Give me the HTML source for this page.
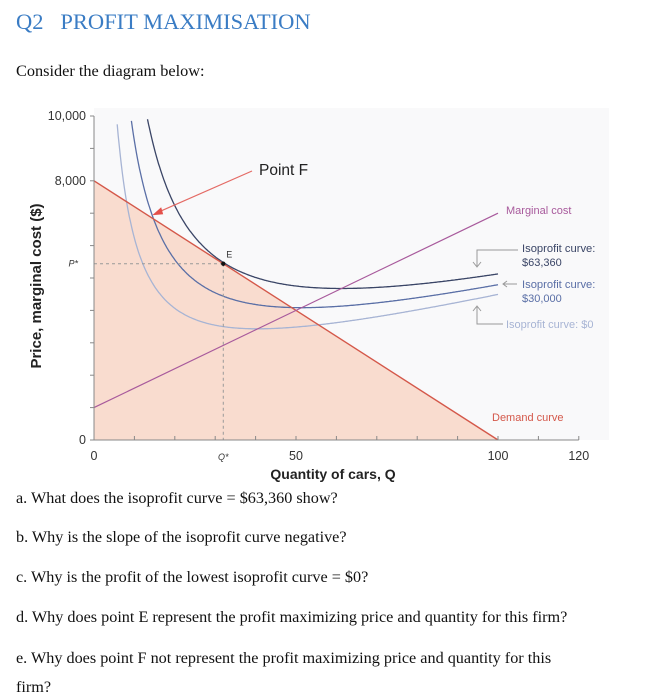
<!DOCTYPE html>
<html><head><meta charset="utf-8">
<style>
body{margin:0;width:667px;height:700px;background:#fff;position:relative;overflow:hidden;font-family:"Liberation Serif",serif;}
.t{position:absolute;white-space:nowrap;color:#111;}
</style></head><body>
<div class="t" style="left:16px;top:9px;font-size:22.5px;color:#3a7cc4;">Q2&nbsp;&nbsp;&nbsp;PROFIT MAXIMISATION</div>
<div class="t" style="left:16px;top:61px;font-size:16.3px;">Consider the diagram below:</div>
<svg id="chart" style="position:absolute;left:0;top:0" width="667" height="700" font-family="Liberation Sans, sans-serif"></svg>
<div class="t" style="left:16px;top:489px;font-size:16.2px;">a. What does the isoprofit curve = $63,360 show?</div>
<div class="t" style="left:16px;top:528px;font-size:16.2px;">b. Why is the slope of the isoprofit curve negative?</div>
<div class="t" style="left:16px;top:568px;font-size:16.2px;">c. Why is the profit of the lowest isoprofit curve = $0?</div>
<div class="t" style="left:16px;top:608px;font-size:16.2px;">d. Why does point E represent the profit maximizing price and quantity for this firm?</div>
<div class="t" style="left:16px;top:649px;font-size:16.2px;">e. Why does point F not represent the profit maximizing price and quantity for this</div>
<div class="t" style="left:16px;top:678px;font-size:16.2px;">firm?</div>
<script>
const demandIntercept = 8000;
const demandSlope = 80;
const mcIntercept = 1000;
const mcSlope = 60;
const fixedCost = 49280;
const profits = [63360, 30000, 0];
const profitColors = ["#3a4566", "#5a6fa6", "#a7b4d4"];
const xTicks = [0,10,20,30,40,50,60,70,80,90,100,110,120];
const xLabels = [[0,"0"],[32,"Q*"],[50,"50"],[100,"100"],[120,"120"]];
const yTicks = [0,1000,2000,3000,4000,5000,6000,7000,8000,9000,10000];
const yLabels = [[0,"0"],[8000,"8,000"],[10000,"10,000"]];
const qStar = 32;
const qF = 14.4;

const svg = document.getElementById('chart');
const NS = "http://www.w3.org/2000/svg";
const X = q => 94 + q * 4.04;
const Y = p => 440 - p * 0.0324;
function el(tag, attrs, parent){const e=document.createElementNS(NS,tag);for(const k in attrs)e.setAttribute(k,attrs[k]);(parent||svg).appendChild(e);return e;}
function txt(x,y,s,attrs){const e=el('text',Object.assign({x:x,y:y},attrs||{}));e.textContent=s;return e;}

let r = el('rect',{x:94,y:108,width:515,height:332,fill:"#f9f9fa"});



const demand = q => demandIntercept - demandSlope*q;
const mc = q => mcIntercept + mcSlope*q;
const iso = (pi,q) => (pi+fixedCost)/q + mcIntercept + mcSlope/2*q;

const qEnd = demandIntercept/demandSlope;
let area = el('polygon',{points:`${X(0)},${Y(demandIntercept)} ${X(qEnd)},${Y(0)} ${X(0)},${Y(0)}`,fill:"#f9dccf"});



profits.forEach((pi,i)=>{
  let pts=[];
  for(let q=1;q<=100;q+=0.25){const p=iso(pi,q); if(p<=10000) pts.push(X(q).toFixed(1)+","+Y(p).toFixed(1));}
  const c=el('polyline',{points:pts.join(" "),fill:"none",stroke:profitColors[i],"stroke-width":1.3});
  
  
});

let d = el('line',{x1:X(0),y1:Y(demandIntercept),x2:X(qEnd),y2:Y(0),stroke:"#d4584a","stroke-width":1.4});


let m = el('line',{x1:X(0),y1:Y(mc(0)),x2:X(100),y2:Y(mc(100)),stroke:"#a85a9c","stroke-width":1.2});



const pStar = demand(qStar);
let g1 = el('line',{x1:X(0),y1:Y(pStar),x2:X(qStar),y2:Y(pStar),stroke:"#999","stroke-dasharray":"3,3"});


let g2 = el('line',{x1:X(qStar),y1:Y(pStar),x2:X(qStar),y2:Y(0),stroke:"#999","stroke-dasharray":"3,3"});


let pe = el('circle',{cx:X(qStar),cy:Y(pStar),r:2.2,fill:"#111"});


let le = txt(X(qStar)+3,Y(pStar)-6,"E",{"font-size":9,fill:"#333"});



let ax = el('line',{x1:94,y1:440,x2:X(120),y2:440,stroke:"#888"});


let ay = el('line',{x1:94,y1:440,x2:94,y2:Y(10000),stroke:"#888"});


xTicks.forEach(q=>{const t=el('line',{x1:X(q),y1:440,x2:X(q),y2:436,stroke:"#888"});

});
yTicks.forEach(p=>{const t=el('line',{x1:90,y1:Y(p),x2:94,y2:Y(p),stroke:"#888"});

});
xLabels.forEach(([q,s])=>{const t=txt(X(q),460,s,{"font-size":s==="Q*"?9:12.5,"text-anchor":"middle",fill:"#333","font-style":s==="Q*"?"italic":"normal"});

});
yLabels.forEach(([p,s])=>{const t=txt(86,Y(p)+4,s,{"font-size":12.5,"text-anchor":"end",fill:"#333"});

});
let ps = txt(78,Y(pStar)+3,"P*",{"font-size":9,"font-style":"italic","text-anchor":"end",fill:"#333"});



let xt = txt(333,479,"Quantity of cars, Q",{"font-size":14,"font-weight":"bold","text-anchor":"middle",fill:"#222"});


let yt = txt(0,0,"Price, marginal cost ($)",{"font-size":15,"font-weight":"bold","text-anchor":"middle",fill:"#222",transform:"translate(41,286) rotate(-90)"});



const fx=X(qF), fy=Y(iso(30000,qF));
let fl = el('line',{x1:252,y1:171,x2:fx+6,y2:fy-3,stroke:"#e46a64","stroke-width":1.2});


let fh = el('polygon',{points:`${fx},${fy} ${fx+9},${fy-8} ${fx+11},${fy-1}`,fill:"#e4504a"});


let ft = txt(259,175,"Point F",{"font-size":15.5,fill:"#222"});



let lm = txt(506,214,"Marginal cost",{"font-size":11,fill:"#a85a9c"});


let ld = txt(492,421,"Demand curve",{"font-size":11,fill:"#d4584a"});


let l1 = txt(522,252,"Isoprofit curve:",{"font-size":11.2,fill:"#3a4566"});


txt(522,266,"$63,360",{"font-size":11,fill:"#3a4566"});
let l2 = txt(522,288,"Isoprofit curve:",{"font-size":11.2,fill:"#5a6fa6"});


txt(522,302,"$30,000",{"font-size":11,fill:"#5a6fa6"});
let l3 = txt(506,328,"Isoprofit curve: $0",{"font-size":11,fill:"#a7b4d4"});


el('polyline',{points:"518,250 477,250 477,266",fill:"none",stroke:"#999"});
el('polyline',{points:"473,262 477,267 481,262",fill:"none",stroke:"#999"});
el('line',{x1:503,y1:284,x2:517,y2:284,stroke:"#999"});
el('polyline',{points:"507,281 503,284 507,287",fill:"none",stroke:"#999"});
el('polyline',{points:"503,324 477,324 477,307",fill:"none",stroke:"#999"});
el('polyline',{points:"473,311 477,306 481,311",fill:"none",stroke:"#999"});
</script>
</body></html>
